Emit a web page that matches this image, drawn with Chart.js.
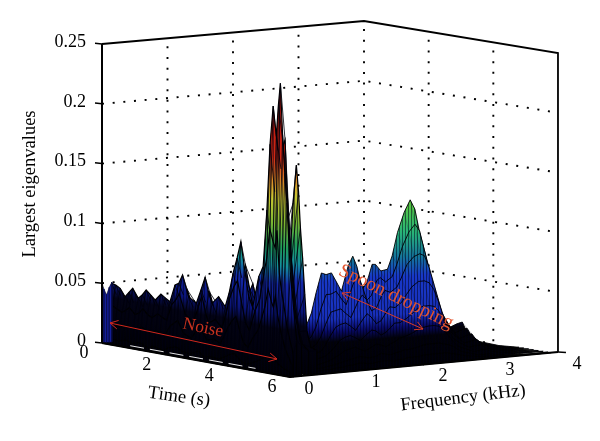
<!DOCTYPE html>
<html>
<head>
<meta charset="utf-8">
<title>Largest eigenvalues</title>
<script src="https://cdn.jsdelivr.net/npm/chart.js@4/dist/chart.umd.min.js"></script>
<style>
  html, body { margin: 0; padding: 0; background: #fff; }
  canvas { display: block; filter: blur(0.3px); }
</style>
</head>
<body>
<canvas id="chart" width="600" height="441"></canvas>
<script>
"use strict";

// axis ticks
const zTicks = [0, 0.05, 0.1, 0.15, 0.2, 0.25];
const zTickLabels = ['0', '0.05', '0.1', '0.15', '0.2', '0.25'];
const timeTicks = [0, 2, 4, 6];
const freqTicks = [0, 1, 2, 3, 4];

// low frequency rows, read along time
const noiseTimes = [0, .1, .23, .37, .53, .65, .77, .95, 1.08, 1.2, 1.35, 1.49, 1.67, 1.8, 1.96, 2.12, 2.24, 2.36, 2.55, 2.8, 2.95, 3.08, 3.2, 3.3, 3.51, 3.72, 3.85, 3.97, 4.1, 4.22, 4.35, 4.47, 4.6, 4.79, 4.93, 5.05, 5.15, 5.25, 5.35, 5.42, 5.48, 5.55, 5.62, 5.69, 5.8, 6];
const noiseFreqs = [.4, .28, .17, .1, .05, .025, 0];
const noiseRow40 = [.018, .02, .022, .024, .02, .022, .024, .02, .022, .025, .022, .02, .024, .022, .02, .028, .03, .032, .025, .022, .026, .03, .026, .022, .025, .022, .026, .032, .038, .042, .034, .026, .024, .03, .028, .035, .095, .14, .172, .15, .12, .095, .065, .035, .022, .02];
const noiseRow28 = [.026, .032, .03, .03, .028, .03, .032, .028, .03, .033, .03, .028, .032, .03, .028, .038, .04, .045, .034, .03, .038, .046, .038, .032, .036, .032, .04, .05, .06, .068, .052, .04, .034, .05, .056, .06, .09, .12, .1, .085, .07, .055, .045, .035, .025, .02];
const noiseRow17 = [.032, .04, .04, .038, .034, .036, .04, .034, .036, .04, .037, .034, .039, .037, .035, .047, .05, .055, .041, .037, .047, .056, .045, .039, .044, .038, .049, .062, .073, .084, .065, .048, .042, .063, .07, .105, .15, .185, .17, .19, .195, .15, .115, .09, .05, .025];
const noiseRow10 = [.038, .0499, .049, .047, .0407, .045, .0489, .0414, .045, .0495, .046, .0425, .0484, .046, .0433, .058, .06, .0676, .0503, .046, .058, .0691, .056, .0483, .0549, .0475, .06, .0766, .09, .1042, .08, .0594, .0517, .0777, .0866, .1346, .19, .2225, .198, .225, .2426, .2, .168, .1436, .085, .03];
const noiseRow05 = [.03, .034, .032, .03, .028, .03, .033, .028, .03, .034, .03, .028, .032, .03, .028, .042, .046, .052, .036, .03, .042, .054, .04, .032, .036, .03, .042, .056, .066, .072, .054, .038, .032, .05, .06, .08, .095, .12, .11, .105, .12, .085, .07, .06, .04, .018];
const noiseRow02 = [.022, .02, .018, .016, .016, .017, .018, .016, .017, .019, .017, .016, .018, .017, .016, .024, .027, .03, .02, .017, .024, .03, .022, .018, .02, .017, .024, .032, .038, .042, .03, .021, .018, .028, .034, .045, .055, .07, .06, .055, .065, .05, .04, .032, .022, .01];
const noiseRow00 = [.012, .008, .006, .005, .004, .005, .006, .004, .005, .006, .004, .003, .005, .004, .003, .006, .007, .008, .005, .004, .006, .008, .005, .004, .005, .004, .006, .008, .01, .011, .008, .005, .004, .006, .008, .01, .012, .014, .012, .011, .013, .011, .009, .008, .006, .004];

// slices of the spoon dropping, read along frequency
const spoonFreqs = [.3, .4, .5, .6, .72, .79, .86, .94, 1.01, 1.09, 1.16, 1.24, 1.34, 1.41, 1.47, 1.55, 1.62, 1.7, 1.75, 1.83, 1.93, 2, 2.08, 2.18, 2.27, 2.34, 2.41, 2.49, 2.56, 2.62, 2.74, 2.87, 2.97, 3.05, 3.12, 3.3, 3.6, 3.9];
const spoonTimes = [5, 5.15, 5.3, 5.45, 5.6, 5.75, 5.9, 6];
const spoonSlice0 = [.008, .012, .018, .028, .0353, .0447, .0611, .0774, .0757, .0767, .0693, .0606, .081, .089, .0804, .0605, .0658, .0807, .0804, .0745, .0754, .0862, .1054, .1217, .1317, .1236, .1038, .0867, .0696, .047, .0353, .0222, .0244, .0255, .0168, .008, .003, 0];
const spoonSlice1 = [.008, .01, .014, .02, .026, .034, .048, .06, .06, .062, .056, .05, .066, .074, .066, .052, .056, .068, .07, .066, .07, .08, .094, .106, .112, .106, .09, .072, .056, .04, .028, .018, .02, .021, .014, .006, .002, 0];
const spoonSlice2 = [.006, .008, .012, .016, .02, .026, .036, .046, .047, .048, .044, .04, .052, .058, .054, .044, .046, .056, .06, .058, .062, .07, .08, .086, .088, .086, .076, .06, .046, .032, .022, .014, .016, .017, .011, .005, .002, 0];
const spoonSlice3 = [.005, .007, .01, .013, .015, .02, .027, .034, .036, .037, .034, .03, .038, .043, .04, .034, .036, .043, .047, .046, .05, .056, .062, .066, .066, .064, .058, .046, .034, .024, .017, .011, .012, .013, .009, .004, .001, 0];
const spoonSlice4 = [.004, .005, .008, .01, .012, .015, .019, .024, .026, .027, .025, .022, .027, .03, .029, .025, .027, .031, .034, .034, .037, .04, .044, .046, .046, .045, .041, .032, .024, .017, .012, .008, .009, .009, .006, .003, .001, 0];
const spoonSlice5 = [.005, .004, .006, .007, .009, .011, .013, .016, .017, .018, .016, .014, .017, .019, .018, .016, .018, .02, .022, .023, .025, .027, .029, .03, .03, .029, .026, .02, .015, .011, .008, .005, .006, .006, .004, .002, .001, 0];
const spoonSlice6 = [.006, .005, .004, .005, .006, .007, .008, .009, .01, .011, .01, .009, .01, .012, .011, .01, .011, .012, .013, .013, .014, .015, .016, .016, .016, .015, .014, .012, .009, .007, .005, .003, .003, .003, .002, .001, 0, 0];
const spoonSlice7 = [.004, .003, .003, .003, .004, .004, .005, .005, .006, .006, .005, .005, .006, .006, .006, .005, .006, .006, .007, .007, .007, .008, .008, .008, .008, .008, .007, .006, .005, .004, .003, .002, .002, .002, .001, .001, 0, 0];

// blue edge of the surface at time zero
const edgeFreqs = [0, .03, .07, .11, .15];
const edgeValues = [.05, .045, .04, .046, .05];

(() => {
  const canvas = document.getElementById('chart');
  const ctx = canvas.getContext('2d');

  // height colours, fraction of the z axis
  const jetStops = [[0, '#000004'], [.022, '#020208'], [.03, '#080a64'], [.04, '#1830bc'], [.07, '#1838c8'], [.085, '#14749c'], [.105, '#28b478'], [.13, '#5ac83c'], [.15, '#bed232'], [.17, '#dc8c28'], [.19, '#d22814'], [.25, '#8c0a0a']];
  const noiseStops = [[0, '#000004'], [.038, '#030314'], [.05, '#0a1478'], [.075, '#1428a8'], [.09, '#14909c'], [.105, '#1e9a5a'], [.125, '#7ab432'], [.145, '#c8c832'], [.16, '#dc8c28'], [.18, '#d22814'], [.25, '#a00a0a']];

  // vertical mesh stripes laid over the sheets
  const stripeTile = document.createElement('canvas');
  stripeTile.width = 3;
  stripeTile.height = 3;
  const tileCtx = stripeTile.getContext('2d');
  tileCtx.fillStyle = 'rgba(0,0,20,0.5)';
  tileCtx.fillRect(0, 0, 1, 3);
  const stripes = ctx.createPattern(stripeTile, 'repeat');

  const project = (t, f, z) => ({
    x: 102 + 31.33 * t + 65.5 * f + 0.25 * t * f,
    y: 343 + 5.667 * t - 5.75 * f - 0.083 * t * f - 1196 * z
  });

  const heightGradient = (a, b, stops) => {
    const p0 = project(a[0], a[1], 0);
    const p1 = project(b[0], b[1], 0);
    const top = project(a[0], a[1], 0.25);
    const len = Math.hypot(p1.x - p0.x, p1.y - p0.y);
    const nx = (p1.y - p0.y) / len;
    const ny = -(p1.x - p0.x) / len;
    const sign = (top.x - p0.x) * nx + (top.y - p0.y) * ny;
    const grad = ctx.createLinearGradient(p0.x, p0.y, p0.x + nx * sign, p0.y + ny * sign);
    stops.forEach(s => grad.addColorStop(s[0] / 0.25, s[1]));
    return grad;
  };

  const line = (data, color, width, dash) => ({
    data: data,
    showLine: true,
    fill: false,
    borderColor: color,
    borderWidth: width,
    borderDash: dash || [],
    pointRadius: 0
  });

  const sheet = (curve, base, color, width) => ({
    data: curve.concat(base.slice().reverse()),
    showLine: true,
    fill: 'shape',
    backgroundColor: color,
    borderColor: '#000',
    borderWidth: width,
    pointRadius: 0
  });

  const dots = [2, 8.7];
  const sets = [];

  // walls and floor grid
  [0.05, 0.1, 0.15, 0.2].forEach(z => {
    sets.push(line([project(0, 0, z), project(0, 4, z), project(6, 4, z)], '#000', 1.9, dots));
  });
  freqTicks.slice(1).forEach(f => {
    sets.push(line([project(0, f, 0), project(0, f, 0.25)], '#000', 1.9, dots));
  });
  timeTicks.slice(1, 3).forEach(t => {
    sets.push(line([project(t, 4, 0), project(t, 4, 0.25)], '#000', 1.9, dots));
    sets.push(line([project(t, 0, 0), project(t, 4, 0)], '#000', 1.9, dots));
  });
  freqTicks.slice(1, 4).forEach(f => {
    sets.push(line([project(0, f, 0), project(6, f, 0)], '#000', 1.9, dots));
  });

  // back and top edges
  sets.push(line([project(0, 0, 0.25), project(0, 4, 0.25), project(6, 4, 0.25), project(6, 4, 0)], '#000', 1.8));

  // spoon slices, back to front, with the ribs that join them
  const spoonSlices = [spoonSlice0, spoonSlice1, spoonSlice2, spoonSlice3, spoonSlice4, spoonSlice5, spoonSlice6, spoonSlice7];
  spoonSlices.forEach((slice, i) => {
    const t = spoonTimes[i];
    const curve = spoonFreqs.map((f, j) => project(t, f, slice[j]));
    const base = spoonFreqs.map(f => project(t, f, 0));
    const last = spoonFreqs.length - 1;
    sets.push(sheet(curve, base, heightGradient([t, spoonFreqs[0]], [t, spoonFreqs[last]], jetStops), 0.9));
    sets.push(sheet(curve, base, stripes, 0));
    if (i > 0) {
      const ribs = [];
      spoonFreqs.forEach((f, j) => {
        ribs.push(project(spoonTimes[i - 1], f, spoonSlices[i - 1][j]), project(t, f, slice[j]), { x: NaN, y: NaN });
      });
      sets.push(line(ribs, 'rgba(0,0,20,0.3)', 0.6));
    }
  });

  // noise rows and the tall peaks, back to front
  const noiseRows = [noiseRow40, noiseRow28, noiseRow17, noiseRow10, noiseRow05, noiseRow02, noiseRow00];
  noiseRows.forEach((row, i) => {
    const f = noiseFreqs[i];
    const curve = noiseTimes.map((t, j) => project(t, f, row[j]));
    const base = noiseTimes.map(t => project(t, f, 0));
    sets.push(sheet(curve, base, heightGradient([0, f], [6, f], noiseStops), 1.2));
    sets.push(sheet(curve, base, stripes, 0));
    if (i > 0) {
      const ribs = [];
      noiseTimes.forEach((t, j) => {
        ribs.push(project(t, noiseFreqs[i - 1], noiseRows[i - 1][j]), project(t, f, row[j]), { x: NaN, y: NaN });
      });
      sets.push(line(ribs, 'rgba(0,0,10,0.9)', 0.9));
    }
  });

  // edge at time zero
  sets.push(sheet(edgeFreqs.map((f, j) => project(0, f, edgeValues[j])), edgeFreqs.map(f => project(0, f, 0)), '#141e96', 0.5));
  edgeFreqs.forEach((f, j) => {
    sets.push(line([project(0, f, edgeValues[j]), project(0, f, 0)], '#0a0e50', 0.7));
  });

  // sliver of paper between the surface and the time axis
  sets.push(line([project(0.9, 0, 0.002), project(4.9, 0, 0.002)], '#fff', 0.9, [14, 6]));

  // front axis lines and ticks
  sets.push(line([project(0, 0, 0.25), project(0, 0, 0)], '#000', 2));
  sets.push(line([project(0, 0, 0), project(6, 0, 0), project(6, 4, 0)], '#000', 2));
  zTicks.forEach(z => {
    const p = project(0, 0, z);
    sets.push(line([p, { x: p.x - 7, y: p.y - 0.8 }], '#000', 1.5));
  });
  const corner = project(6, 4, 0);
  sets.push(line([corner, { x: corner.x + 8, y: corner.y + 0.6 }], '#000', 1.5));

  const textPlugin = {
    id: 'texts',
    afterDraw(chart) {
      const c = chart.ctx;
      const px = chart.scales.x;
      const py = chart.scales.y;

      const text = (str, x, y, size, angle, color, align) => {
        c.save();
        c.translate(px.getPixelForValue(x), py.getPixelForValue(y));
        c.rotate(angle * Math.PI / 180);
        c.font = size + 'px "Liberation Serif"';
        c.fillStyle = color;
        c.textAlign = align || 'center';
        c.textBaseline = 'middle';
        c.fillText(str, 0, 0);
        c.restore();
      };

      const arrow = (x0, y0, x1, y1, color) => {
        const a = Math.atan2(y1 - y0, x1 - x0);
        const head = (x, y, dir) => {
          c.moveTo(x + 9 * Math.cos(dir + 0.5), y + 9 * Math.sin(dir + 0.5));
          c.lineTo(x, y);
          c.lineTo(x + 9 * Math.cos(dir - 0.5), y + 9 * Math.sin(dir - 0.5));
        };
        c.save();
        c.strokeStyle = color;
        c.lineWidth = 1;
        c.beginPath();
        c.moveTo(x0, y0);
        c.lineTo(x1, y1);
        head(x0, y0, a);
        head(x1, y1, a + Math.PI);
        c.stroke();
        c.restore();
      };

      zTicks.forEach((z, i) => {
        text(zTickLabels[i], 86, project(0, 0, z).y - 2, 18, 0, '#000', 'right');
      });
      timeTicks.forEach(t => {
        const p = project(t, 0, 0);
        text(String(t), p.x - 18, p.y + 10.5, 18, 0, '#000');
      });
      freqTicks.forEach(f => {
        const p = project(6, f, 0);
        text(String(f), p.x + 19, p.y + 12, 18, 0, '#000');
      });

      text('Largest eigenvalues', 30, 184, 18.5, -90, '#000');
      text('Time (s)', 179, 397, 18.5, 8, '#000');
      text('Frequency (kHz)', 463, 398, 18.5, -7, '#000');

      arrow(110, 323, 277, 359, '#d0281e');
      arrow(342, 293, 423, 329, '#d83c28');
      text('Noise', 203, 328, 17.5, 12, '#c8321e');
      text('Spoon dropping', 396, 297, 19.5, 26, '#e2552f');
    }
  };

  new Chart(canvas, {
    type: 'scatter',
    data: { datasets: sets.reverse() }, // first dataset is painted last
    plugins: [textPlugin],
    options: {
      responsive: false,
      animation: false,
      layout: { padding: 0 },
      elements: { line: { tension: 0 } },
      plugins: { legend: { display: false }, tooltip: { enabled: false } },
      scales: {
        x: { type: 'linear', min: 0, max: 600, display: false },
        y: { type: 'linear', min: 0, max: 441, reverse: true, display: false }
      }
    }
  });
})();
</script>
</body>
</html>
